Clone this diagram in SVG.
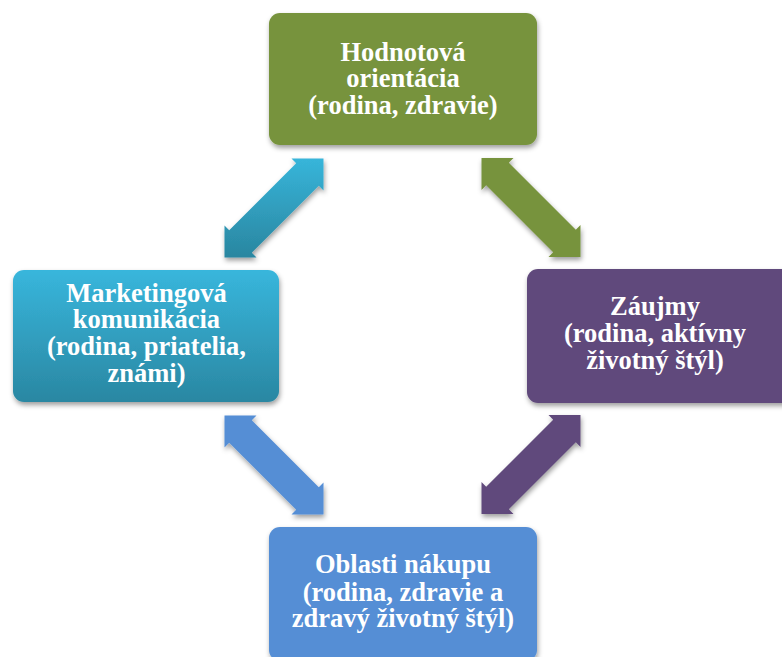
<svg xmlns="http://www.w3.org/2000/svg" xmlns:xlink="http://www.w3.org/1999/xlink" width="782" height="657" viewBox="0 0 782 657">
  <defs>
    <filter id="sh" x="-20%" y="-20%" width="140%" height="140%">
      <feDropShadow dx="1" dy="3" stdDeviation="2.5" flood-color="#000" flood-opacity="0.38"/>
    </filter>
    <linearGradient id="cyanBox" x1="0" y1="0" x2="0" y2="1">
      <stop offset="0" stop-color="#38B6DC"/>
      <stop offset="1" stop-color="#2A87A2"/>
    </linearGradient>
    <linearGradient id="cyanArrow" x1="0" y1="0" x2="0" y2="1">
      <stop offset="0" stop-color="#37B5DA"/>
      <stop offset="1" stop-color="#2A86A0"/>
    </linearGradient>
    <path id="arrUR" d="M49.5,-49.5 L49.5,-17.5 L44.8,-22.2 L-22.2,44.8 L-17.5,49.5 L-49.5,49.5 L-49.5,17.5 L-44.8,22.2 L22.2,-44.8 L17.5,-49.5 Z"/>
    <path id="arrDR" d="M49.5,49.5 L49.5,17.5 L44.8,22.2 L-22.2,-44.8 L-17.5,-49.5 L-49.5,-49.5 L-49.5,-17.5 L-44.8,-22.2 L22.2,44.8 L17.5,49.5 Z"/>
  </defs>
  <style>
    .box { filter: url(#sh); }
    .lbl { font-family: "Liberation Serif", "Times New Roman", serif; font-weight: bold; font-size: 26.5px; fill: #FFFFFF; text-anchor: middle; }
    .arr { filter: url(#sh); }
  </style>
  <rect width="782" height="657" fill="#FFFFFF"/>

  <g id="connectors">
    <use class="arr" xlink:href="#arrUR" href="#arrUR" transform="translate(274,208)" fill="url(#cyanArrow)"/>
    <use class="arr" xlink:href="#arrDR" href="#arrDR" transform="translate(531,207.5)" fill="#77933C"/>
    <use class="arr" xlink:href="#arrDR" href="#arrDR" transform="translate(274,465)" fill="#558ED5"/>
    <use class="arr" xlink:href="#arrUR" href="#arrUR" transform="translate(531,464.5)" fill="#604A7B"/>
  </g>

  <g id="node-hodnotova">
    <rect class="box" x="269" y="13" width="268" height="132" rx="11" fill="#77933C"/>
    <text class="lbl"><tspan x="403" y="61">Hodnotová</tspan><tspan x="403" y="87.3">orientácia</tspan><tspan x="403" y="113.5">(rodina, zdravie)</tspan></text>
  </g>

  <g id="node-marketing">
    <rect class="box" x="13" y="270" width="266" height="132" rx="11" fill="url(#cyanBox)"/>
    <text class="lbl"><tspan x="146.5" y="301.7">Marketingová</tspan><tspan x="146.5" y="328.3">komunikácia</tspan><tspan x="146.5" y="354.7">(rodina, priatelia,</tspan><tspan x="146.5" y="381.7">známi)</tspan></text>
  </g>

  <g id="node-zaujmy">
    <rect class="box" x="527" y="269" width="268" height="134" rx="11" fill="#604A7B"/>
    <text class="lbl"><tspan x="655" y="315">Záujmy</tspan><tspan x="655" y="342.3">(rodina, aktívny</tspan><tspan x="655" y="369.3">životný štýl)</tspan></text>
  </g>

  <g id="node-oblasti">
    <rect class="box" x="269" y="527" width="268" height="134" rx="11" fill="#558ED5"/>
    <text class="lbl"><tspan x="403" y="573.3">Oblasti nákupu</tspan><tspan x="403" y="600.5">(rodina, zdravie a</tspan><tspan x="403" y="627">zdravý životný štýl)</tspan></text>
  </g>
</svg>
